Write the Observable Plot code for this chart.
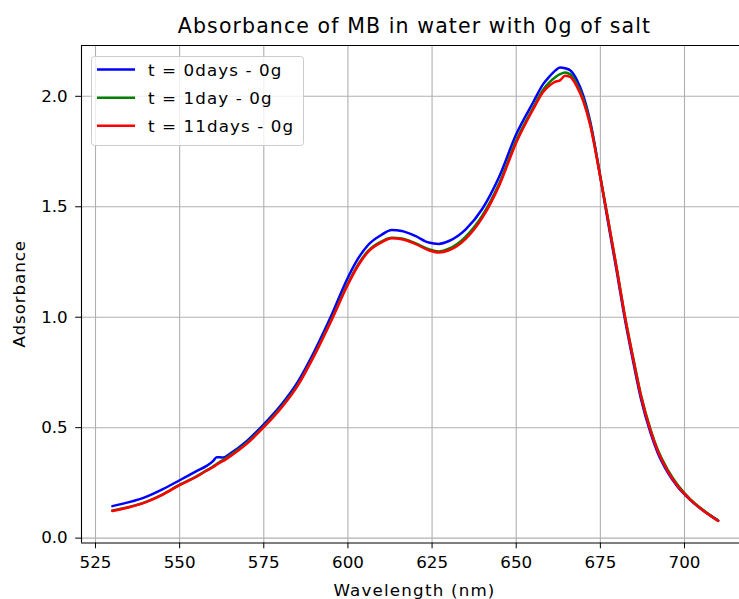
<!DOCTYPE html>
<html>
<head>
<meta charset="utf-8">
<script src="https://cdn.jsdelivr.net/npm/d3@7"></script>
<script src="https://cdn.jsdelivr.net/npm/@observablehq/plot@0.6"></script>
<style>
  html, body { margin: 0; padding: 0; background: white; }
  #wrap { position: relative; width: 739px; height: 599px; overflow: hidden; font-family: "DejaVu Sans", sans-serif; }
  #overlay { position: absolute; left: 0; top: 0; pointer-events: none; }
</style>
</head>
<body>
<div id="wrap"></div>
<script>
// ---- data ----
const wavelengths = [530,535,540,545,550,555,558,560,561,562,563,565,570,575,580,585,590,595,600,603,606,610,613,616,620,624,627,630,635,640,645,650,655,658,660,661.5,663,664.5,666,668,670,672,675,677,680,682,685,687,690,692,695,698,700,703,706,710];
const absT0 = [0.145,0.163,0.187,0.222,0.262,0.303,0.327,0.350,0.366,0.366,0.365,0.383,0.440,0.515,0.600,0.705,0.845,1.005,1.180,1.265,1.327,1.373,1.395,1.390,1.368,1.338,1.332,1.345,1.398,1.492,1.638,1.828,1.972,2.055,2.092,2.115,2.130,2.127,2.118,2.075,2.000,1.885,1.635,1.455,1.195,1.015,0.780,0.635,0.472,0.388,0.298,0.232,0.198,0.155,0.120,0.080];
const absT1 = [0.125,0.141,0.164,0.198,0.242,0.280,0.307,0.325,0.336,0.346,0.355,0.375,0.432,0.506,0.590,0.692,0.830,0.987,1.153,1.238,1.300,1.343,1.360,1.356,1.335,1.308,1.298,1.310,1.365,1.462,1.608,1.800,1.948,2.030,2.065,2.085,2.100,2.108,2.100,2.055,1.985,1.875,1.635,1.468,1.210,1.030,0.798,0.652,0.488,0.402,0.310,0.240,0.204,0.158,0.122,0.079];
const absT11 = [0.123,0.140,0.163,0.197,0.240,0.278,0.305,0.322,0.332,0.342,0.350,0.370,0.428,0.502,0.586,0.688,0.826,0.982,1.148,1.233,1.296,1.339,1.357,1.353,1.332,1.303,1.293,1.303,1.355,1.452,1.598,1.790,1.940,2.020,2.050,2.065,2.072,2.093,2.088,2.045,1.975,1.868,1.632,1.465,1.208,1.028,0.793,0.648,0.482,0.396,0.303,0.235,0.200,0.156,0.120,0.078];
const seriesNames = ["t = 0days - 0g", "t = 1day - 0g", "t = 11days - 0g"];
const seriesColors = ["#0000ff", "#008000", "#ff0000"];
const xTicks = [525, 550, 575, 600, 625, 650, 675, 700];
const yTicks = [0.0, 0.5, 1.0, 1.5, 2.0];
const xDomain = [520.84, 716.34];
const yDomain = [-0.022, 2.230];
const titleText = "Absorbance of MB in water with 0g of salt";
const xLabel = "Wavelength (nm)";
const yLabel = "Adsorbance";

const seriesValues = [absT0, absT1, absT11];
const rows = [];
seriesValues.forEach((vals, si) => {
  vals.forEach((v, i) => rows.push({wl: wavelengths[i], abs: v, series: seriesNames[si]}));
});

const W = 739, H = 599;
const mTop = 45, mLeft = 81, mRight = 0, mBottom = 56.5;
const fs = 16.7;

const chart = Plot.plot({
  width: W, height: H,
  marginTop: mTop, marginLeft: mLeft, marginRight: mRight, marginBottom: mBottom,
  x: {domain: xDomain},
  y: {domain: yDomain},
  color: {domain: seriesNames, range: seriesColors},
  style: {fontFamily: "DejaVu Sans", background: "white", color: "black", overflow: "visible"},
  marks: [
    Plot.gridX(xTicks, {stroke: "#b0b0b0", strokeOpacity: 1, strokeWidth: 1.1}),
    Plot.gridY(yTicks, {stroke: "#b0b0b0", strokeOpacity: 1, strokeWidth: 1.1}),
    Plot.lineY(rows, {x: "wl", y: "abs", z: "series", stroke: "series", strokeWidth: 2.5, curve: "monotone-x"}),
    Plot.ruleX([xDomain[0]], {stroke: "black", strokeWidth: 1.1}),
    Plot.ruleY(yDomain, {stroke: "black", strokeWidth: 1.1}),
    Plot.axisX(xTicks, {tickSize: 5.8, tickPadding: 7.5, fontSize: fs, label: null, tickFormat: d => String(d), stroke: "black", fill: "black"}),
    Plot.axisY(yTicks, {tickSize: 5.8, tickPadding: 8, fontSize: fs, label: null, tickFormat: d => d.toFixed(1), stroke: "black", fill: "black"})
  ]
});

const wrap = document.getElementById("wrap");
wrap.appendChild(chart);

// overlay: title, axis labels, legend
const plotCenterX = (mLeft + 748) / 2;
const svg = d3.select(wrap).append("svg")
  .attr("id", "overlay").attr("width", W).attr("height", H)
  .attr("font-family", "DejaVu Sans");

svg.append("text").attr("x", plotCenterX).attr("y", 33.3)
  .attr("text-anchor", "middle").attr("font-size", 20.5).attr("letter-spacing", "1.1px")
  .attr("fill", "black").text(titleText);
svg.append("text").attr("x", plotCenterX).attr("y", 596)
  .attr("text-anchor", "middle").attr("font-size", fs).attr("letter-spacing", "1.2px")
  .attr("fill", "black").text(xLabel);
svg.append("text").attr("transform", `translate(25,${(mTop + H - mBottom) / 2}) rotate(-90)`)
  .attr("text-anchor", "middle").attr("font-size", fs).attr("letter-spacing", "0.9px")
  .attr("fill", "black").text(yLabel);

const leg = svg.append("g").attr("transform", "translate(91,56)");
leg.append("rect").attr("x", 0.5).attr("y", 0.5).attr("width", 212).attr("height", 89)
  .attr("rx", 3).attr("fill", "white").attr("fill-opacity", 0.8)
  .attr("stroke", "#cccccc").attr("stroke-width", 1);
seriesNames.forEach((name, i) => {
  const cy = 13.6 + i * 28.1;
  leg.append("line").attr("x1", 6).attr("x2", 44).attr("y1", cy).attr("y2", cy)
    .attr("stroke", seriesColors[i]).attr("stroke-width", 2.5);
  leg.append("text").attr("x", 57).attr("y", cy).attr("dy", "0.36em")
    .attr("font-size", fs).attr("letter-spacing", "1.1px")
    .attr("fill", "black").text(name);
});
</script>
</body>
</html>
